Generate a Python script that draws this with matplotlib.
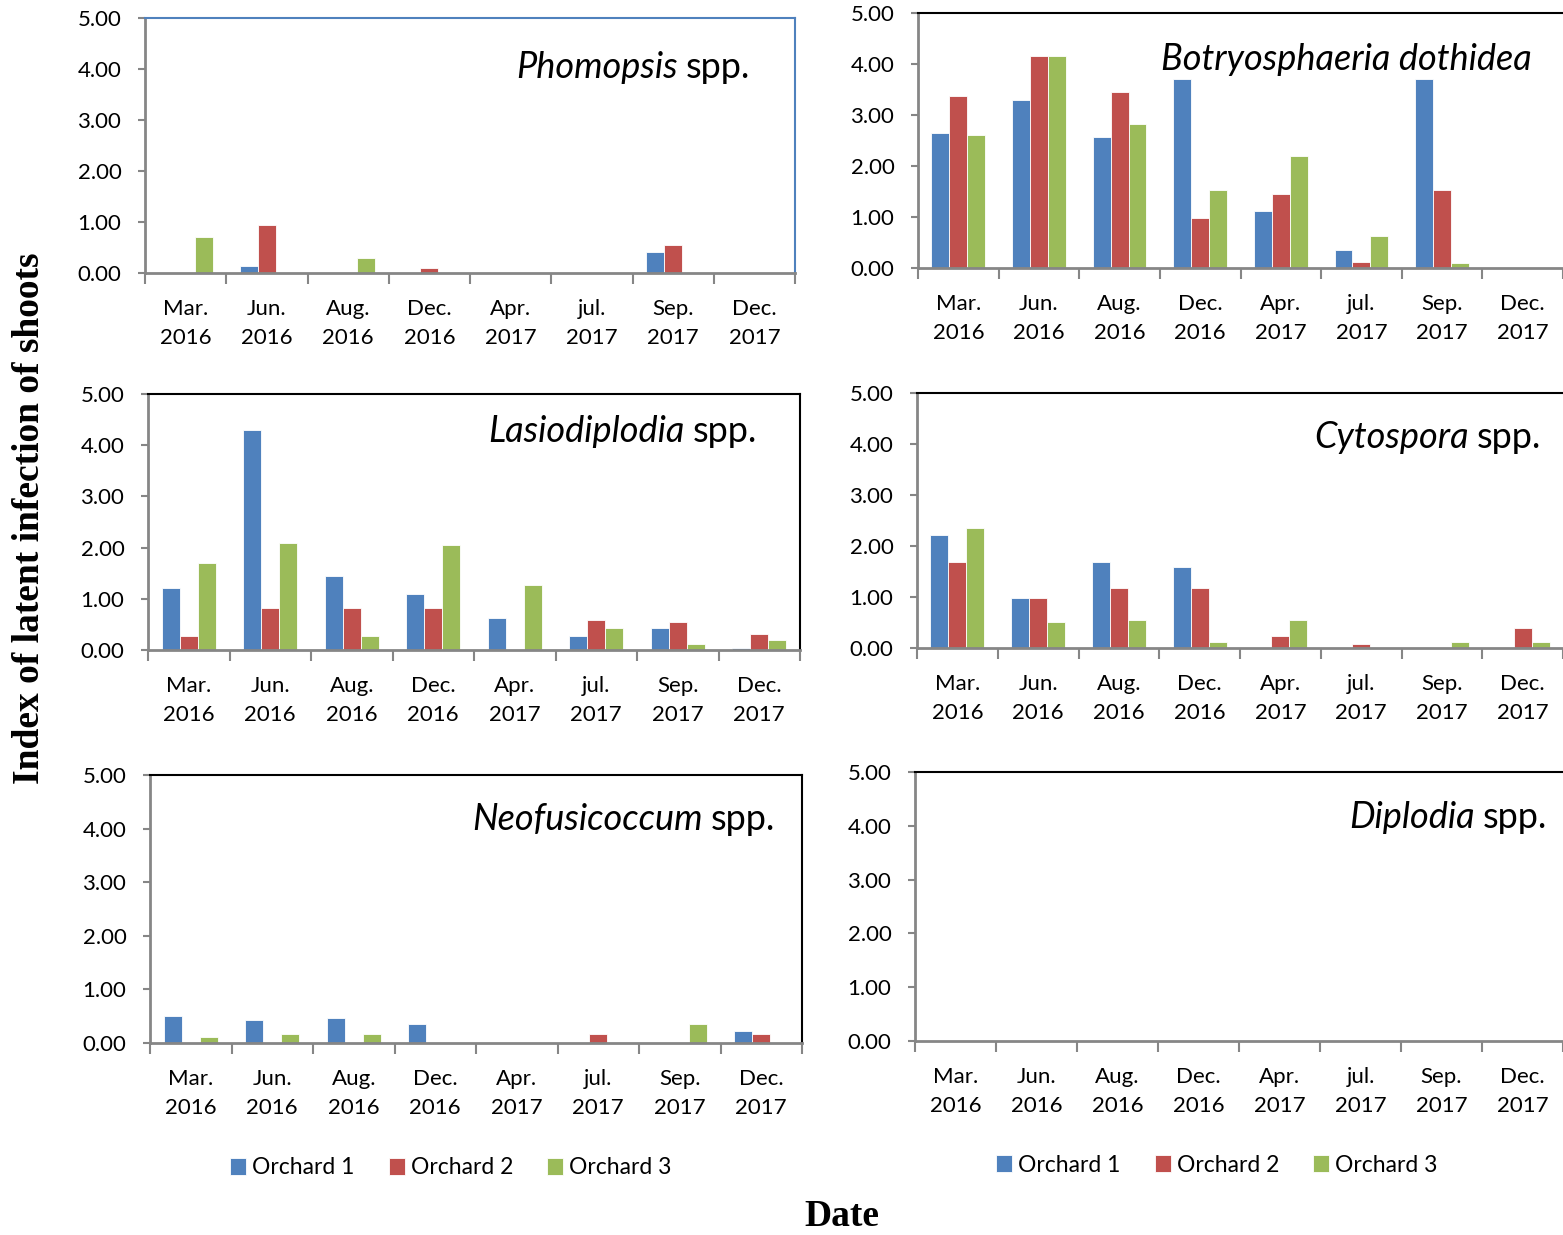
import matplotlib
matplotlib.use("Agg")
import matplotlib.pyplot as plt
import numpy

# dates of sampling
dates = ['Mar.\n2016', 'Jun.\n2016', 'Aug.\n2016', 'Dec.\n2016',
         'Apr.\n2017', 'jul.\n2017', 'Sep.\n2017', 'Dec.\n2017']
orchards = ['Orchard 1', 'Orchard 2', 'Orchard 3']

phomopsis_o1 = [0, 0.13, 0, 0, 0, 0, 0.42, 0]
phomopsis_o2 = [0, 0.94, 0, 0.10, 0, 0, 0.54, 0]
phomopsis_o3 = [0.70, 0, 0.30, 0, 0, 0, 0, 0]

botryo_o1 = [2.64, 3.30, 2.56, 3.70, 1.11, 0.36, 3.70, 0]
botryo_o2 = [3.38, 4.16, 3.46, 0.99, 1.46, 0.12, 1.53, 0]
botryo_o3 = [2.60, 4.16, 2.83, 1.53, 2.20, 0.63, 0.09, 0]

lasio_o1 = [1.22, 4.30, 1.45, 1.10, 0.63, 0.27, 0.43, 0.03]
lasio_o2 = [0.27, 0.82, 0.82, 0.82, 0, 0.59, 0.55, 0.31]
lasio_o3 = [1.69, 2.09, 0.27, 2.05, 1.26, 0.43, 0.11, 0.19]

cyto_o1 = [2.21, 0.99, 1.69, 1.58, 0, 0, 0, 0]
cyto_o2 = [1.69, 0.99, 1.18, 1.18, 0.24, 0.08, 0, 0.39]
cyto_o3 = [2.36, 0.51, 0.55, 0.12, 0.55, 0, 0.12, 0.12]

neo_o1 = [0.50, 0.42, 0.46, 0.35, 0, 0, 0, 0.23]
neo_o2 = [0, 0, 0, 0, 0, 0.16, 0, 0.16]
neo_o3 = [0.12, 0.16, 0.16, 0, 0, 0, 0.35, 0]

diplodia_o1 = [0, 0, 0, 0, 0, 0, 0, 0]
diplodia_o2 = [0, 0, 0, 0, 0, 0, 0, 0]
diplodia_o3 = [0, 0, 0, 0, 0, 0, 0, 0]

colors = ['#4F81BD', '#C0504D', '#9BBB59']
gray = '#868686'
W, H = 1563, 1235

plt.rcParams['font.family'] = ['Lato', 'DejaVu Sans']

fig = plt.figure(figsize=(W / 100, H / 100), dpi=100)


def px_rect(left, top, right, bottom):
	return [left / W, 1 - bottom / H, (right - left) / W, (bottom - top) / H]


def DrawPanel(rect, series, frameColor, rightSpine=True):
	ax = fig.add_axes(rect)
	x = numpy.arange(len(dates))
	w = 1 / 4.5  # gap width 150% like Excel
	for i, vals in enumerate(series):
		ax.bar(x + (i - 1) * w, vals, w, color=colors[i], edgecolor='white',
		       linewidth=0.6, label=orchards[i], zorder=1)
	ax.set_xlim(-0.5, len(dates) - 0.5)
	ax.set_ylim(0, 5)
	ax.set_yticks(numpy.arange(0, 6, 1))
	ax.set_yticklabels(['%.2f' % v for v in range(6)], fontsize=16)
	ax.set_xticks(numpy.arange(-0.5, len(dates), 1))
	ax.set_xticklabels([])
	ax.set_xticks(x, minor=True)
	ax.set_xticklabels(dates, minor=True, fontsize=16, linespacing=1.55)
	ax.tick_params(axis='x', which='major', direction='out', length=8, width=1.5, color=gray)
	ax.tick_params(axis='x', which='minor', length=0, pad=19)
	ax.tick_params(axis='y', direction='out', length=5, width=1.5, color=gray, pad=12)
	for s in ['left', 'bottom']:
		ax.spines[s].set_color(gray)
		ax.spines[s].set_linewidth(2)
	ax.spines['top'].set_color(frameColor)
	ax.spines['right'].set_color(frameColor)
	ax.spines['top'].set_linewidth(1.5)
	ax.spines['right'].set_linewidth(1.5)
	ax.spines['right'].set_visible(rightSpine)
	return ax


ax1 = DrawPanel(px_rect(145, 18, 795, 273), [phomopsis_o1, phomopsis_o2, phomopsis_o3], '#4F81BD')
ax2 = DrawPanel(px_rect(918, 13, 1563, 268), [botryo_o1, botryo_o2, botryo_o3], 'black', False)
ax3 = DrawPanel(px_rect(148, 394, 800, 650), [lasio_o1, lasio_o2, lasio_o3], 'black')
ax4 = DrawPanel(px_rect(917, 393, 1563, 648), [cyto_o1, cyto_o2, cyto_o3], 'black', False)
ax5 = DrawPanel(px_rect(150, 775, 802, 1043), [neo_o1, neo_o2, neo_o3], 'black')
ax6 = DrawPanel(px_rect(915, 772, 1563, 1041), [diplodia_o1, diplodia_o2, diplodia_o3], 'black', False)

# legends under the bottom panels
for ax, cx, cy in [(ax5, 451, 1168), (ax6, 1217, 1165)]:
	ax.legend(loc='center', bbox_to_anchor=(cx / W, 1 - cy / H), bbox_transform=fig.transFigure,
	          ncol=3, frameon=False, fontsize=16.5, handlelength=0.7, handleheight=0.7,
	          handletextpad=0.25, columnspacing=1.5)

# panel titles: italic genus + plain "spp."
titles = [('Phomopsis', ' spp.', 750, 68), ('Botryosphaeria dothidea', '', 1532, 59),
          ('Lasiodiplodia', ' spp.', 757, 432), ('Cytospora', ' spp.', 1541, 437),
          ('Neofusicoccum', ' spp.', 775, 820), ('Diplodia', ' spp.', 1547, 818)]
fig.canvas.draw()
renderer = fig.canvas.get_renderer()
for genus, rest, rx, cy in titles:
	xr = rx / W
	if rest:
		t = fig.text(xr, 1 - cy / H, rest.strip(), fontsize=26, ha='right', va='center')
		bb = t.get_window_extent(renderer)
		xr = (bb.x0 - 8) / W
	fig.text(xr, 1 - cy / H, genus, fontsize=26, style='italic', ha='right', va='center')

fig.text(30 / W, 1 - 518 / H, 'Index of latent infection of shoots', rotation=90,
         fontsize=27, fontweight='bold', family='Liberation Serif', ha='center', va='center')
fig.text(842 / W, 1 - 1217 / H, 'Date', fontsize=27, fontweight='bold',
         family='Liberation Serif', ha='center', va='center')

fig.savefig('out.png', dpi=100)
